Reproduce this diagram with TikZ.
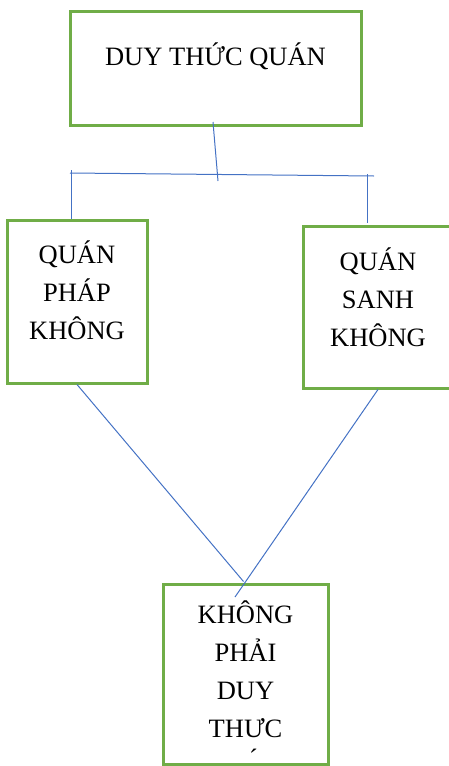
\documentclass[tikz,border=0pt]{standalone}
\usepackage{fontspec}
\setmainfont{Liberation Serif}
\usepackage{tikz}
\definecolor{boxgreen}{RGB}{112,173,71}
\definecolor{lineblue}{RGB}{68,114,196}
\usetikzlibrary{positioning}

\begin{document}
\begin{tikzpicture}[x=1pt, y=-1pt,
			box/.style={draw=boxgreen, line width=3pt, rectangle, inner sep=0pt},
			conn/.style={draw=lineblue, line width=1pt},
			lbl/.style={inner sep=0pt, align=center, font=\fontsize{26.5}{38}\selectfont}]
			%Bildbereich
			\useasboundingbox (0,0) rectangle (449,766);
			% Kaesten
			\node[box, minimum width=291pt, minimum height=114pt] (duy) at (215.5,68) {};
			\node[box, minimum width=140pt, minimum height=163pt] (phap) at (77,301.5) {};
			\node[box, minimum width=150pt, minimum height=162pt] (sanh) at (378,307) {};
			\node[box, minimum width=165pt, minimum height=180pt] (khong) at (245.5,674) {};
			% Beschriftung
			\node[lbl, below=33.5pt of duy.north] (tduy) {DUY THỨC QUÁN};
			\node[lbl, below=22.5pt of phap.north] (tphap) {QUÁN\\PHÁP\\KHÔNG};
			\node[lbl, below=23.5pt of sanh.north] (tsanh) {QUÁN\\SANH\\KHÔNG};
			\node[lbl, below=18.5pt of khong.north] (tkhong) {KHÔNG\\PHẢI\\DUY\\THƯC};
			\node[lbl, below=10pt of tkhong.south, xshift=8pt] (dau) {´};
			% Verbindungen
			\coordinate (d1) at (213,122);
			\coordinate (d2) at (218,181);
			\coordinate (bl) at (70,173);
			\coordinate (br) at (374,176);
			\coordinate (vl) at (71,170);
			\coordinate (vr) at (367,174);
			\coordinate (kx) at (235,597);
			\draw[conn] (d1) -- (d2);
			\draw[conn] (bl) -- (br);
			\draw[conn] (vl) -- (vl |- phap.north);
			\draw[conn] (vr) -- ([yshift=2pt]vr |- sanh.north);
			\draw[conn] (phap.south) -- ([xshift=-2pt,yshift=1pt]khong.north);
			\draw[conn] (sanh.south) -- (kx);
		\end{tikzpicture}
\end{document}
